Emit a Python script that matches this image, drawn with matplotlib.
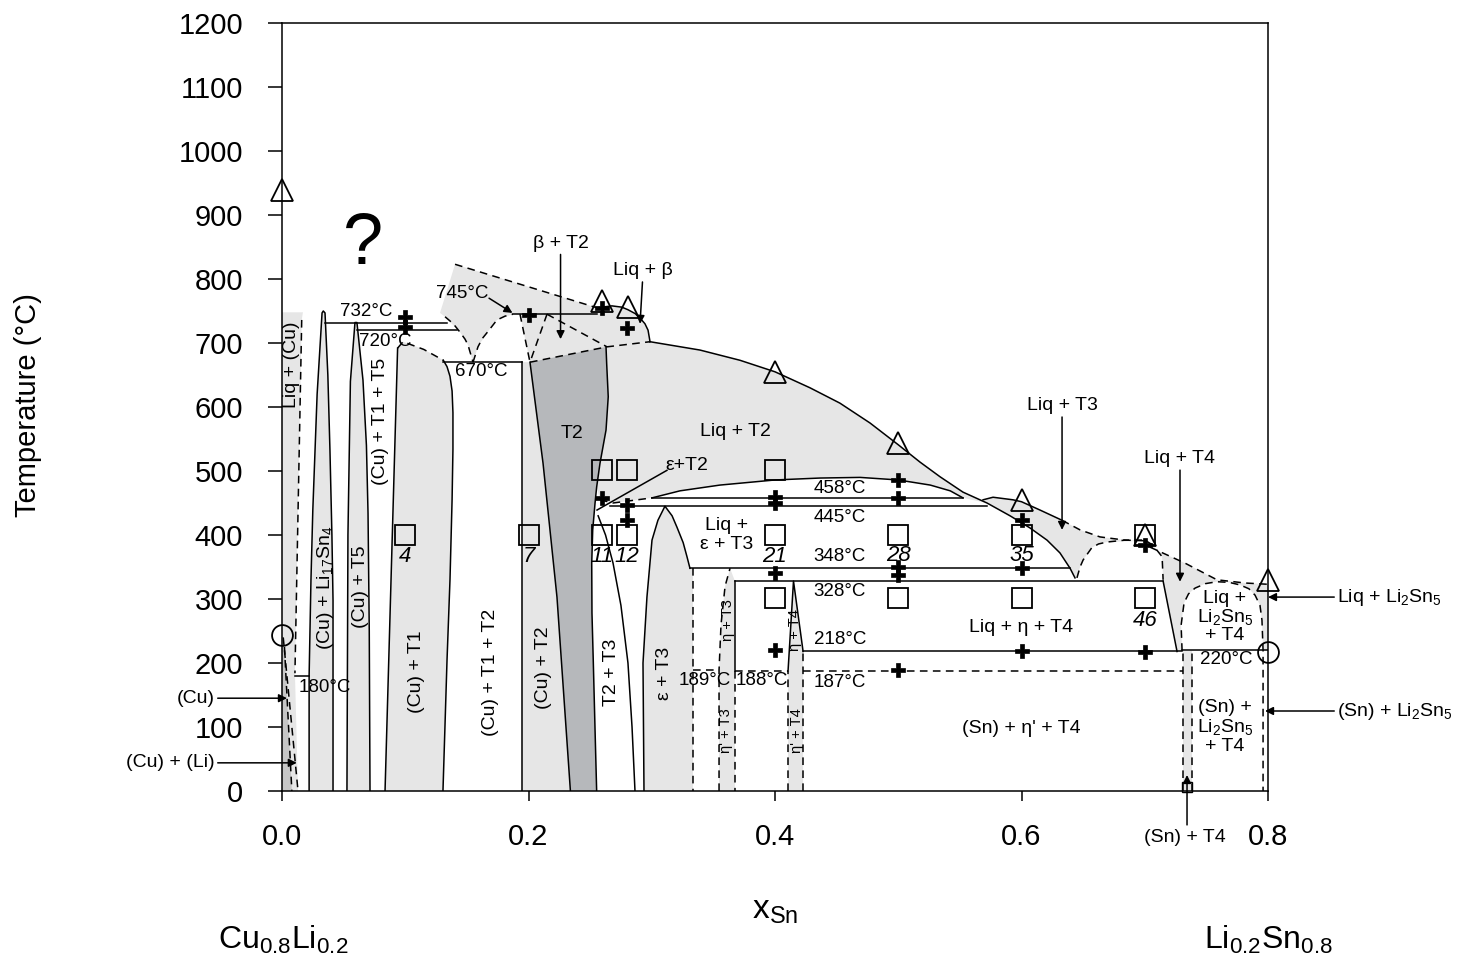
import matplotlib
matplotlib.use('Agg')
import matplotlib.pyplot as plt

plt.rcParams['font.family'] = ['Liberation Sans', 'DejaVu Sans']
plt.rcParams['mathtext.fontset'] = 'custom'
plt.rcParams['mathtext.rm'] = 'Liberation Sans'
plt.rcParams['mathtext.it'] = 'Liberation Sans:italic'

LIGHT = '#e6e6e6'
DARK = '#b6b8bb'
CU_DARK = '#c6c6c6'
LW = 1.1
DASH = (5, 3.5)

# phase boundaries, (x_Sn, T / degC)
liq_cu_fill = [(0, 0), (0, 748), (0.017, 748), (0.016, 736), (0.0105, 184), (0.013, 0)]
cu_fill = [(0, 0), (0, 244), (0.002, 225), (0.008, 0)]
liq_cu_dash = [(0.016, 736), (0.0105, 184)]
cu_dash_a = [(0.001, 240), (0.013, 0)]
cu_dash_b = [(0.002, 225), (0.008, 0)]
line_180 = [(0.0105, 180), (0.022, 180)]

li17sn4 = [(0.022, 0), (0.022, 180), (0.0235, 330), (0.025, 439), (0.0285, 620),
           (0.0325, 747), (0.0335, 750), (0.0349, 747), (0.0372, 650), (0.0389, 533),
           (0.0405, 400), (0.0414, 298), (0.0414, 0)]
t5_spike = [(0.0527, 0), (0.0535, 400), (0.0555, 640), (0.0592, 732), (0.0608, 732),
            (0.0657, 642), (0.0685, 540), (0.0698, 434), (0.0708, 250), (0.0714, 0)]

cu_t1_left = [(0.0836, 0), (0.0938, 692)]
cu_t1_top = [(0.0938, 692), (0.0982, 702), (0.115, 690), (0.1309, 673)]
cu_t1_right = [(0.1309, 673), (0.1339, 663), (0.1363, 648), (0.138, 625), (0.1387, 591),
               (0.1387, 534), (0.138, 455), (0.1363, 330), (0.1339, 205), (0.1306, 0)]

line_732 = [(0.0349, 732), (0.134, 732)]
line_720 = [(0.0608, 720), (0.142, 720)]
line_670 = [(0.1309, 670), (0.1945, 670)]
line_745 = [(0.1874, 745), (0.2556, 745)]
cu_t2_edge = [(0.1945, 0), (0.1945, 670)]

beta_fill = [(0.1404, 823), (0.2556, 755), (0.2677, 758), (0.2807, 752), (0.2905, 739),
             (0.297, 720), (0.2986, 702), (0.2637, 694), (0.2012, 670), (0.1931, 745),
             (0.1874, 745), (0.1744, 736), (0.1663, 716), (0.159, 694), (0.155, 670),
             (0.1509, 697), (0.1444, 717), (0.1323, 741), (0.1282, 747)]
beta_top_dash = [(0.1404, 823), (0.2556, 755)]
beta_dome = [(0.2556, 755), (0.2677, 758), (0.2757, 756), (0.2807, 752), (0.2865, 746),
             (0.2905, 739), (0.2945, 730), (0.297, 720), (0.2986, 702)]
arc_left = [(0.1323, 741), (0.139, 730), (0.1444, 717), (0.1485, 706), (0.1509, 697),
            (0.155, 670)]
arc_right = [(0.155, 670), (0.159, 694), (0.1625, 707), (0.1663, 716), (0.1744, 736),
             (0.181, 742), (0.1874, 745)]
beta_dash_1 = [(0.1931, 745), (0.2012, 670)]
beta_dash_2 = [(0.215, 745), (0.2012, 670)]
beta_dash_3 = [(0.215, 745), (0.2637, 694)]
beta_bottom = [(0.2012, 670), (0.2637, 694), (0.2986, 702)]

t2_left = [(0.2012, 670), (0.2118, 512), (0.2231, 303), (0.234, 0)]
t2_right = [(0.2629, 694), (0.2634, 669), (0.2647, 616), (0.2629, 564), (0.258, 512),
            (0.2553, 475), (0.254, 450), (0.2521, 408), (0.2513, 356), (0.2515, 278),
            (0.2526, 200), (0.254, 95), (0.2553, 0)]
t2t3_edge = [(0.2565, 430), (0.2625, 400), (0.2686, 356), (0.275, 290), (0.2807, 200),
             (0.284, 100), (0.2864, 0)]

liquidus = [(0.2986, 702), (0.3391, 689), (0.3716, 673), (0.4, 655), (0.4284, 630),
            (0.4527, 606), (0.4771, 575), (0.5, 541), (0.5176, 514), (0.5339, 491),
            (0.5525, 467), (0.572, 450), (0.5907, 430), (0.6069, 411), (0.6207, 392),
            (0.6312, 372), (0.6394, 348), (0.6434, 333)]
curve_458 = [(0.3002, 458), (0.3229, 469), (0.3553, 478), (0.4, 486), (0.4365, 489),
             (0.469, 490), (0.5, 486), (0.526, 478), (0.5422, 469), (0.5525, 458)]
eps_t2_dash = [(0.258, 455), (0.2686, 450), (0.3002, 458)]

line_458 = [(0.3002, 458), (0.5525, 458)]
line_445 = [(0.266, 445), (0.572, 445)]
line_348 = [(0.331, 348), (0.6394, 348)]
line_328 = [(0.3675, 328), (0.7149, 328)]
line_218 = [(0.4228, 218), (0.7303, 218)]
line_220 = [(0.7303, 220), (0.8, 220)]
dash_189 = [(0.3335, 189), (0.3546, 189)]
dash_188 = [(0.3675, 188), (0.4106, 188)]
dash_187 = [(0.4228, 187), (0.7311, 187)]

eps_t3 = [(0.2937, 0), (0.2929, 200), (0.2961, 303), (0.3002, 392), (0.305, 423),
          (0.3107, 445), (0.3165, 430), (0.3205, 412), (0.3255, 388), (0.3286, 366),
          (0.331, 348)]
eps_t3_dash = [(0.3335, 348), (0.3335, 0)]

eta_t3_dash = [(0.3546, 0), (0.3546, 189), (0.3562, 260), (0.3595, 320), (0.3635, 348)]
eta_t3_solid = [(0.3675, 328), (0.3675, 188)]
eta_t3_lower = [(0.3675, 188), (0.3675, 0)]
eta_t4_solid = [(0.4106, 188), (0.415, 328), (0.4228, 218)]
eta_t4_dash_l = [(0.4106, 0), (0.4106, 188)]
eta_t4_dash_r = [(0.4228, 0), (0.4228, 218)]

t3_liq = [(0.5688, 455), (0.5769, 459), (0.5931, 455), (0.6, 452), (0.615, 439),
          (0.6329, 423)]
t3_liq_dash = [(0.6329, 423), (0.6475, 408), (0.6637, 397), (0.684, 392), (0.7002, 391)]
dome_t3_t4 = [(0.645, 333), (0.6475, 350), (0.65, 361), (0.657, 380), (0.6625, 386),
              (0.6694, 389), (0.684, 392), (0.7002, 392), (0.7067, 384), (0.7141, 366),
              (0.7149, 330)]
t4_slant = [(0.7149, 328), (0.7262, 218)]
t4_top_dash = [(0.7043, 381), (0.7327, 356), (0.7586, 330), (0.7813, 325), (0.8, 323)]
li2sn5_dome = [(0.7303, 219), (0.7295, 259), (0.7319, 294), (0.7355, 308), (0.7408, 317),
               (0.7492, 324), (0.7586, 327), (0.7684, 326), (0.7773, 322), (0.7845, 316),
               (0.7895, 306), (0.7935, 290), (0.7951, 267), (0.796, 220), (0.796, 0)]
sn_t4_l = [(0.7311, 0), (0.7311, 218)]
sn_t4_r = [(0.7384, 0), (0.7384, 218)]

# experimental points
tri_x = [0.0, 0.26, 0.281, 0.4, 0.5, 0.6, 0.7, 0.8]
tri_t = [939, 765, 757, 655, 544, 455, 400, 330]
circ_x = [0.0, 0.8]
circ_t = [244, 217]
sq_x = [0.1, 0.2, 0.26, 0.28, 0.26, 0.28, 0.4, 0.4, 0.4, 0.5, 0.5, 0.6, 0.6, 0.7, 0.7]
sq_t = [400, 400, 400, 400, 502, 502, 502, 400, 302, 400, 302, 400, 302, 400, 302]
plus_x = [0.1, 0.1, 0.2, 0.26, 0.28, 0.26, 0.28, 0.28, 0.4, 0.4, 0.4, 0.4,
          0.5, 0.5, 0.5, 0.5, 0.5, 0.6, 0.6, 0.6, 0.7, 0.7]
plus_t = [741, 725, 744, 755, 723, 458, 447, 423, 459, 450, 341, 220,
          486, 458, 350, 338, 189, 423, 348, 219, 384, 217]
sample_x = [0.1, 0.2, 0.26, 0.28, 0.4, 0.5, 0.6, 0.7]
sample_t = [366, 366, 366, 366, 366, 368, 368, 267]
sample_ids = ['4', '7', '11', '12', '21', '28', '35', '46']

temp_labels = ['732°C', '720°C', '670°C', '180°C', '745°C', '458°C', '445°C', '348°C',
               '328°C', '218°C', '187°C', '189°C', '188°C', '220°C']
temp_label_x = [0.068, 0.084, 0.162, 0.035, 0.146, 0.4527, 0.4527, 0.4527,
                0.4527, 0.4527, 0.4527, 0.3432, 0.3895, 0.766]
temp_label_t = [750, 703, 655, 162, 778, 473, 428, 366, 311, 236, 169, 172, 172, 205]


def xy(pts):
    return [p[0] for p in pts], [p[1] for p in pts]


def solid(pts):
    ax.plot(*xy(pts), color='k', lw=LW, zorder=3, solid_joinstyle='round')


def dashed(pts):
    ax.plot(*xy(pts), color='k', lw=LW, zorder=3, dashes=DASH)


def fill(pts, color):
    ax.fill(*xy(pts), color=color, lw=0, zorder=1)


fig = plt.figure(figsize=(14.7, 9.63), dpi=100)
ax = fig.add_axes([282 / 1470, 172 / 963, 986 / 1470, 768 / 963])

# shaded phase fields
fill(liq_cu_fill, LIGHT)
fill(cu_fill, CU_DARK)
fill(li17sn4, LIGHT)
fill(t5_spike, LIGHT)
fill(cu_t1_left + cu_t1_top[1:] + cu_t1_right[1:], LIGHT)
fill(beta_fill, LIGHT)
fill([(0.1945, 0), (0.1945, 670)] + t2_left, LIGHT)
fill(t2_left + t2_right[::-1], DARK)
fill(liquidus[:12] + curve_458[::-1] + [(0.2686, 450), (0.258, 455)]
     + [p for p in t2_right if p[1] >= 455][::-1] + [(0.2637, 694)], LIGHT)
fill(eps_t3 + eps_t3_dash, LIGHT)
fill(eta_t3_dash + [(0.3675, 328), (0.3675, 0)], LIGHT)
fill([eta_t4_dash_l[0]] + eta_t4_solid + [eta_t4_dash_r[0]], LIGHT)
fill(t3_liq + t3_liq_dash[1:] + [p for p in dome_t3_t4 if p[0] < 0.684][::-1]
     + [p for p in liquidus if p[0] > 0.57][::-1], LIGHT)
fill(t4_top_dash + [(0.8, 220)] + li2sn5_dome[-2::-1] + [(0.7262, 218)]
     + [p for p in dome_t3_t4 if p[0] > 0.706][::-1], LIGHT)
fill(sn_t4_l + sn_t4_r[::-1], LIGHT)

for pts in [line_180, li17sn4, t5_spike, cu_t1_left, cu_t1_right, line_732, line_720,
            line_670, line_745, cu_t2_edge, beta_dome, t2_left, t2_right, t2t3_edge,
            liquidus, curve_458, line_458, line_445, line_348, line_328, line_218,
            line_220, eps_t3, eta_t3_solid, eta_t4_solid, t3_liq, t4_slant]:
    solid(pts)
for pts in [liq_cu_dash, cu_dash_a, cu_dash_b, cu_t1_top, beta_top_dash, arc_left,
            arc_right, beta_dash_1, beta_dash_2, beta_dash_3, beta_bottom, eps_t2_dash,
            eps_t3_dash, eta_t3_dash, eta_t3_lower, dash_189, dash_188, dash_187,
            eta_t4_dash_l, eta_t4_dash_r, t3_liq_dash, dome_t3_t4, t4_top_dash,
            li2sn5_dome, sn_t4_l, sn_t4_r]:
    dashed(pts)

# markers
ax.plot(tri_x, tri_t, ls='none', marker='^', ms=16, mfc='none', mec='k', mew=1.3,
        zorder=5, clip_on=False)
ax.plot(circ_x, circ_t, ls='none', marker='o', ms=15, mfc='none', mec='k', mew=1.3,
        zorder=5, clip_on=False)
ax.plot(sq_x, sq_t, ls='none', marker='s', ms=14, mfc='none', mec='k', mew=1.3,
        zorder=5)
ax.plot(plus_x, plus_t, ls='none', marker='P', ms=10, mfc='k', mec='k', mew=0.5,
        zorder=6)
for sx, st, sid in zip(sample_x, sample_t, sample_ids):
    ax.text(sx, st, sid, ha='center', va='center', fontsize=16, style='italic', zorder=7)

for lab, lx, lt in zip(temp_labels, temp_label_x, temp_label_t):
    ax.text(lx, lt, lab, ha='center', va='center', fontsize=13.5, zorder=7)

# phase field names
fs = 14
rot = dict(rotation=90, ha='center', va='center', fontsize=fs, zorder=7)
ax.text(0.008, 666, 'Liq + (Cu)', **rot)
ax.text(0.035, 318, r'(Cu) + Li$_\mathregular{17}$Sn$_\mathregular{4}$', **rot)
ax.text(0.064, 319, '(Cu) + T5', **rot)
ax.text(0.080, 578, '(Cu) + T1 + T5', **rot)
ax.text(0.1095, 186, '(Cu) + T1', **rot)
ax.text(0.1688, 186, '(Cu) + T1 + T2', **rot)
ax.text(0.2118, 192, '(Cu) + T2', **rot)
ax.text(0.2677, 186, 'T2 + T3', **rot)
ax.text(0.3107, 184, 'ε + T3', **rot)
small = dict(rotation=90, ha='center', va='center', fontsize=10.5, zorder=7)
ax.text(0.3619, 267, 'η + T3', **small)
ax.text(0.3603, 95, "η' + T3", **small)
ax.text(0.4162, 252, 'η + T4', **small)
ax.text(0.4178, 95, "η' + T4", **small)

hz = dict(ha='center', va='center', fontsize=fs, zorder=7)
ax.text(0.235, 559, 'T2', **hz)
ax.text(0.3675, 561, 'Liq + T2', **hz)
ax.text(0.361, 400, 'Liq +\nε + T3', linespacing=1.2, **hz)
ax.text(0.6, 255, 'Liq + η + T4', **hz)
ax.text(0.6, 98, "(Sn) + η' + T4", **hz)
ax.text(0.765, 272, 'Liq +\nLi$_\\mathregular{2}$Sn$_\\mathregular{5}$\n+ T4',
        linespacing=1.0, **hz)
ax.text(0.765, 100, '(Sn) +\nLi$_\\mathregular{2}$Sn$_\\mathregular{5}$\n+ T4',
        linespacing=1.05, **hz)
ax.text(0.066, 853, '?', ha='center', va='center', fontsize=52, zorder=7)

arw = dict(arrowstyle='-|>', color='k', lw=LW, mutation_scale=12, shrinkA=0, shrinkB=0)
ax.annotate('', xy=(0.187, 747), xytext=(0.168, 770), arrowprops=arw)
ax.annotate('β + T2', xy=(0.226, 706), xytext=(0.226, 856), arrowprops=arw, **hz)
ax.annotate('Liq + β', xy=(0.2905, 730), xytext=(0.293, 813), arrowprops=arw, **hz)
ax.annotate('Liq + T3', xy=(0.6329, 408), xytext=(0.6329, 602), arrowprops=arw, **hz)
ax.annotate('Liq + T4', xy=(0.7286, 327), xytext=(0.7286, 519), arrowprops=arw, **hz)
ax.text(0.3286, 509, 'ε+T2', **hz)
solid([(0.3123, 501), (0.2556, 439)])

out = dict(arrowprops=arw, annotation_clip=False, fontsize=fs, va='center', zorder=7)
ax.annotate('Liq + Li$_\\mathregular{2}$Sn$_\\mathregular{5}$', xy=(0.8, 303),
            xytext=(0.856, 303), ha='left', **out)
ax.annotate('(Sn) + Li$_\\mathregular{2}$Sn$_\\mathregular{5}$', xy=(0.7976, 125),
            xytext=(0.856, 125), ha='left', **out)
ax.annotate('(Cu)', xy=(0.004, 145), xytext=(-0.0544, 145), ha='right', **out)
ax.annotate('(Cu) + (Li)', xy=(0.012, 44), xytext=(-0.0544, 44), ha='right', **out)
ax.annotate('', xy=(0.7343, 25), xytext=(0.7343, -53), arrowprops=arw,
            annotation_clip=False)
ax.plot([0.7343], [7], marker='s', ms=7, mfc='none', mec='k', mew=1, clip_on=False,
        zorder=6)
ax.text(0.7327, -73, '(Sn) + T4', ha='center', va='center', fontsize=fs)

ax.set_xlim(0, 0.8)
ax.set_ylim(0, 1200)
ax.set_xticks([0, 0.2, 0.4, 0.6, 0.8])
ax.set_xticklabels(['0.0', '0.2', '0.4', '0.6', '0.8'])
ax.set_yticks(range(0, 1201, 100))
ax.tick_params(axis='y', length=10, width=1.1, pad=18, labelsize=21)
ax.tick_params(axis='x', length=7, width=1.1, pad=16, labelsize=21)
for sp in ax.spines.values():
    sp.set_linewidth(1.1)

fig.text(28 / 1470, 1 - 405 / 963, 'Temperature (°C)', rotation=90, ha='center',
         va='center', fontsize=21)
fig.text(775 / 1470, 1 - 910 / 963, r'x$_\mathregular{Sn}$', ha='center', va='center',
         fontsize=24)
fig.text(283 / 1470, 1 - 940 / 963, r'Cu$_\mathregular{0.8}$Li$_\mathregular{0.2}$',
         ha='center', va='center', fontsize=23)
fig.text(1268 / 1470, 1 - 940 / 963, r'Li$_\mathregular{0.2}$Sn$_\mathregular{0.8}$',
         ha='center', va='center', fontsize=23)

fig.savefig('out.png', dpi=100)
